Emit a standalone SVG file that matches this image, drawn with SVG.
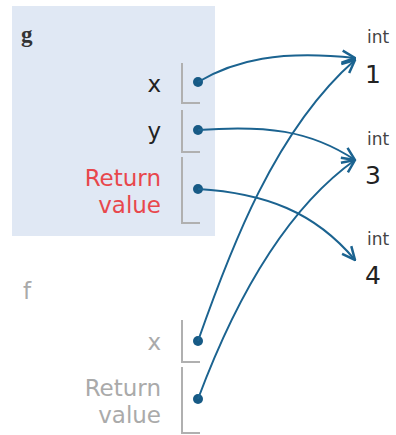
<svg xmlns="http://www.w3.org/2000/svg" width="396" height="435" viewBox="0 0 396 435">
<style>
.lbl{font-family:"DejaVu Sans",sans-serif;font-size:23px;text-anchor:end}
.blk{fill:#222}
.red{fill:#e8474c}
.gry{fill:#aaaaaa}
.typ{font-family:"DejaVu Sans",sans-serif;font-size:17px;fill:#444}
.val{font-family:"DejaVu Sans",sans-serif;font-size:25px;fill:#222}
.brk{fill:none;stroke:#b0b0b0;stroke-width:2}
.dot{fill:#175a85}
.con{fill:none;stroke:#1b6390;stroke-width:2}
</style>
<defs>
<marker id="ah" viewBox="0 0 16 16" refX="15" refY="8" markerWidth="16" markerHeight="16" orient="auto" markerUnits="userSpaceOnUse">
<path d="M2,2 L15,8 L2,14" fill="none" stroke="#1b6390" stroke-width="2.5"/>
</marker>
</defs>
<g id="frame-g">
<rect x="12" y="6" width="203" height="230" fill="#e0e8f4"/>
<text x="21" y="42" font-family="Liberation Serif,serif" font-size="23" font-weight="bold" fill="#333">g</text>
<text class="lbl blk" x="161" y="92">x</text>
<path class="brk" d="M182,63 V103 H200"/>
<circle class="dot" cx="198" cy="82" r="5"/>
<text class="lbl blk" x="161" y="139">y</text>
<path class="brk" d="M182,110 V152 H200"/>
<circle class="dot" cx="198" cy="130" r="5"/>
<text class="lbl red" x="161" y="186">Return</text>
<text class="lbl red" x="161" y="213">value</text>
<path class="brk" d="M182,157 V223 H200"/>
<circle class="dot" cx="198" cy="189" r="5"/>
</g>
<g id="frame-f">
<text x="23" y="299" font-family="DejaVu Sans,sans-serif" font-size="23" fill="#aaaaaa">f</text>
<text class="lbl gry" x="161" y="350">x</text>
<path class="brk" d="M182,320 V362 H200"/>
<circle class="dot" cx="198" cy="341" r="5"/>
<text class="lbl gry" x="161" y="396">Return</text>
<text class="lbl gry" x="161" y="423">value</text>
<path class="brk" d="M182,367 V433 H200"/>
<circle class="dot" cx="198" cy="399" r="5"/>
</g>
<g id="obj-1">
<text class="typ" x="367" y="43">int</text>
<text class="val" x="365" y="83">1</text>
</g>
<g id="obj-3">
<text class="typ" x="367" y="145">int</text>
<text class="val" x="365" y="184">3</text>
</g>
<g id="obj-4">
<text class="typ" x="367" y="245">int</text>
<text class="val" x="365" y="284">4</text>
</g>
<g id="connectors">
<path class="con" marker-end="url(#ah)" d="M198,82 C235,60 280,50 355,58"/>
<path class="con" marker-end="url(#ah)" d="M198,130 C265,125 310,130 355,160"/>
<path class="con" marker-end="url(#ah)" d="M198,189 C265,193 315,212 355,260"/>
<path class="con" marker-end="url(#ah)" d="M198,341 C230,250 275,130 355,60"/>
<path class="con" marker-end="url(#ah)" d="M198,399 C235,300 285,210 355,160"/>
</g>
</svg>
